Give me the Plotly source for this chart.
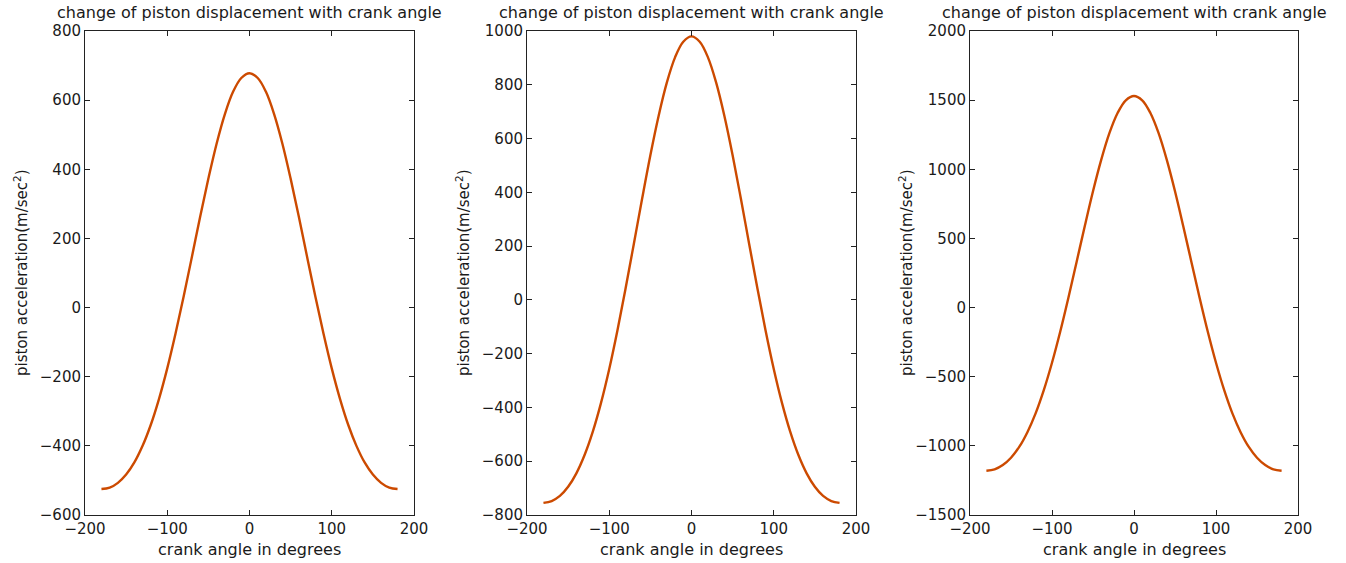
import plotly.graph_objects as go

crank_angle = [-180, -170, -160, -150, -140, -130, -120, -110, -100, -90, -80, -70, -60, -50, -40, -30, -20, -10,
               0, 10, 20, 30, 40, 50, 60, 70, 80, 90, 100, 110, 120, 130, 140, 150, 160, 170, 180]

accel_1 = [-525, -521, -507, -483, -448, -400, -339, -264, -176, -76, 33, 147, 263, 373, 474, 559, 624, 664,
           678, 664, 624, 559, 474, 373, 263, 147, 33, -76, -176, -264, -339, -400, -448, -483, -507, -521, -525]
accel_2 = [-755, -748, -729, -695, -645, -577, -490, -383, -257, -113, 45, 210, 377, 538, 684, 808, 902, 960,
           980, 960, 902, 808, 684, 538, 377, 210, 45, -113, -257, -383, -490, -577, -645, -695, -729, -748, -755]
accel_3 = [-1180, -1170, -1139, -1086, -1008, -901, -765, -597, -399, -175, 71, 330, 590, 841, 1068, 1261, 1407, 1499,
           1530, 1499, 1407, 1261, 1068, 841, 590, 330, 71, -175, -399, -597, -765, -901, -1008, -1086, -1139, -1170, -1180]

y_ranges = [[-600, 800], [-800, 1000], [-1500, 2000]]
y_dticks = [200, 200, 500]
x_ticks = [-200, -100, 0, 100, 200]
title_text = "change of piston displacement with crank angle"
xlabel_text = "crank angle in degrees"
ylabel_text = "piston acceleration(m/sec<sup>2</sup>)"

W, H = 1346, 563
FONT = "DejaVu Sans, Arial, sans-serif"
TXT = "#1a1a1a"
LINE = "#cc4a00"

px_left = [85, 527, 970]
px_right = [414, 856, 1298]
top_px, bot_px = 31, 515
ydom = [(H - bot_px) / H, (H - top_px) / H]

fig = go.Figure()
series = [accel_1, accel_2, accel_3]
for i, ys in enumerate(series):
    sfx = "" if i == 0 else str(i + 1)
    fig.add_trace(go.Scatter(x=crank_angle, y=ys, mode="lines", line=dict(color=LINE, width=2.4, shape="spline"),
                             xaxis="x" + sfx, yaxis="y" + sfx, showlegend=False))
    axis_common = dict(showgrid=False, zeroline=False, showline=True, linecolor="#222", linewidth=1,
                       mirror="ticks", ticks="inside", ticklen=5, tickcolor="#222", automargin=False,
                       tickfont=dict(family=FONT, size=15, color=TXT))
    fig.update_layout(**{
        "xaxis" + sfx: dict(domain=[px_left[i] / W, px_right[i] / W], range=[-200, 200], tickvals=x_ticks,
                            anchor="y" + sfx, **axis_common),
        "yaxis" + sfx: dict(domain=ydom, range=y_ranges[i], dtick=y_dticks[i], anchor="x" + sfx, **axis_common),
    })
    cx = (px_left[i] + px_right[i]) / 2 / W
    fig.add_annotation(text=title_text, x=cx, y=(H - 13) / H, xref="paper", yref="paper", showarrow=False,
                       xanchor="center", yanchor="middle", font=dict(family=FONT, size=16, color=TXT))
    fig.add_annotation(text=xlabel_text, x=cx, y=(H - 549) / H, xref="paper", yref="paper", showarrow=False,
                       xanchor="center", yanchor="middle", font=dict(family=FONT, size=16, color=TXT))
    fig.add_annotation(text=ylabel_text, x=(px_left[i] - 64) / W, y=(H - (top_px + bot_px) / 2) / H,
                       xref="paper", yref="paper", showarrow=False, textangle=-90,
                       xanchor="center", yanchor="middle", font=dict(family=FONT, size=15, color=TXT))

fig.update_layout(width=W, height=H, margin=dict(l=0, r=0, t=0, b=0, autoexpand=False),
                  paper_bgcolor="white", plot_bgcolor="white")
fig.write_html("out.html", config={"displayModeBar": False},
               post_script="document.body.style.margin='0';document.body.style.overflow='hidden';")
